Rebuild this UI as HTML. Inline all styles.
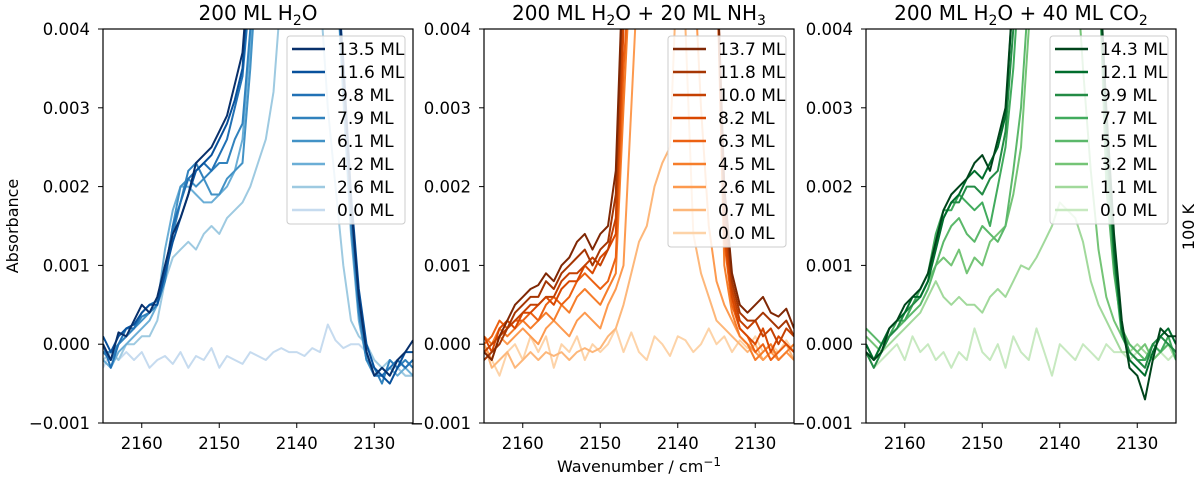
<!DOCTYPE html>
<html><head><meta charset="utf-8"><style>
body{margin:0;background:#fff;}
svg{display:block;font-family:"DejaVu Sans","Liberation Sans",sans-serif;}
</style></head><body>
<svg id="chart" width="1200" height="477" viewBox="0 0 1200 477" xmlns="http://www.w3.org/2000/svg"></svg>
<script>
const wavenumbers=[2165,2164,2163,2162,2161,2160,2159,2158,2157,2156,2155,2154,2153,2152,2151,2150,2149,2148,2147,2146,2145,2144,2143,2142,2141,2140,2139,2138,2137,2136,2135,2134,2133,2132,2131,2130,2129,2128,2127,2126,2125];
const xTicks=[2160,2150,2140,2130];
const yTicks=[-0.001,0,0.001,0.002,0.003,0.004];
const yTickLabels=["\u22120.001","0.000","0.001","0.002","0.003","0.004"];
const panelTitles=["200 ML H<tspan dy='5' font-size='14'>2</tspan><tspan dy='-5'>O</tspan>","200 ML H<tspan dy='5' font-size='14'>2</tspan><tspan dy='-5'>O + 20 ML NH</tspan><tspan dy='5' font-size='14'>3</tspan>","200 ML H<tspan dy='5' font-size='14'>2</tspan><tspan dy='-5'>O + 40 ML CO</tspan><tspan dy='5' font-size='14'>2</tspan>"];
// values in units of 0.001 absorbance (legend order: thickest first)
const blueLabels=["13.5 ML","11.6 ML","9.8 ML","7.9 ML","6.1 ML","4.2 ML","2.6 ML","0.0 ML"];
const blueColors=["#08306b","#08519c","#2171b5","#3182bd","#4292c6","#6baed6","#9ecae1","#c6dbef"];
const blueValues=[
[0,-0.2,0.15,0.1,0.3,0.5,0.4,0.6,1.0,1.4,1.6,1.9,2.3,2.4,2.5,2.7,2.9,3.3,3.7,5,5,5,5,5,5,5,5,5,5,5,5,3.5,1.8,0.6,-0.1,-0.4,-0.3,-0.4,-0.2,-0.1,0.05],
[0.1,-0.1,0.1,0.2,0.25,0.4,0.5,0.5,0.9,1.3,1.6,1.9,2.2,2.3,2.4,2.6,2.8,3.1,3.5,5,5,5,5,5,5,5,5,5,5,5,5,3.6,1.9,0.7,0.0,-0.3,-0.4,-0.5,-0.3,-0.1,-0.1],
[0.0,-0.3,0.0,0.2,0.2,0.4,0.5,0.55,0.9,1.5,1.8,2.1,2.2,2.3,2.2,2.4,2.6,3.0,3.4,4.5,5,5,5,5,5,5,5,5,5,5,5,3.4,1.7,0.5,-0.1,-0.4,-0.4,-0.3,-0.2,-0.3,-0.2],
[-0.1,-0.2,0.0,0.1,0.2,0.35,0.4,0.5,0.8,1.4,1.8,2.2,2.3,2.1,2.2,2.3,2.3,2.6,2.8,4.0,5,5,5,5,5,5,5,5,5,5,5,3.3,1.6,0.4,-0.2,-0.3,-0.5,-0.2,-0.3,-0.2,-0.3],
[-0.1,-0.1,0.0,0.1,0.2,0.3,0.4,0.5,0.9,1.5,2.0,2.1,2.0,2.1,1.9,1.9,2.1,2.2,2.3,3.5,5,5,5,5,5,5,5,5,5,5,5,3.2,1.5,0.4,-0.2,-0.4,-0.3,-0.4,-0.2,-0.3,-0.2],
[-0.2,-0.3,-0.1,0.0,0.1,0.2,0.3,0.5,1.2,1.7,2.0,2.0,1.9,1.8,1.8,1.9,2.0,2.2,2.6,3.8,5,5,5,5,5,5,5,5,5,5,5,3.1,1.4,0.3,-0.2,-0.3,-0.4,-0.3,-0.4,-0.3,-0.4],
[-0.2,-0.1,-0.2,0.0,0.0,0.1,0.1,0.3,0.8,1.1,1.2,1.3,1.2,1.4,1.5,1.4,1.6,1.7,1.8,2.0,2.3,2.6,3.2,4.5,5,5,5,5,4.5,3.0,2.0,1.0,0.3,0.1,0.0,-0.2,-0.3,-0.2,-0.3,-0.4,-0.4],
[-0.3,-0.1,-0.2,-0.1,-0.2,-0.1,-0.3,-0.2,-0.15,-0.25,-0.1,-0.3,-0.15,-0.2,-0.05,-0.3,-0.15,-0.2,-0.25,-0.1,-0.15,-0.2,-0.1,-0.05,-0.1,-0.1,-0.15,-0.05,-0.1,0.25,0.05,-0.05,0.0,0.0,-0.1,-0.3,-0.4,-0.3,-0.3,-0.4,-0.4]];
const orangeLabels=["13.7 ML","11.8 ML","10.0 ML","8.2 ML","6.3 ML","4.5 ML","2.6 ML","0.7 ML","0.0 ML"];
const orangeColors=["#7f2704","#a63603","#c54102","#d94801","#ec6112","#f67d2a","#fd9a4f","#fdb77a","#fdd3a8"];
const orangeValues=[
[-0.1,-0.2,0.1,0.3,0.5,0.6,0.7,0.75,0.9,0.8,1.0,1.1,1.3,1.4,1.2,1.4,1.5,2.2,5,5,5,5,5,5,5,5,5,5,5,5,5,2.0,0.9,0.5,0.4,0.5,0.6,0.4,0.35,0.45,0.2],
[-0.2,-0.1,0.0,0.2,0.4,0.5,0.6,0.6,0.8,0.7,0.9,1.0,1.1,1.2,1.0,1.2,1.3,1.9,5,5,5,5,5,5,5,5,5,5,5,5,5,1.8,0.8,0.4,0.3,0.3,0.4,0.3,0.2,0.3,0.1],
[-0.1,0.0,0.1,0.2,0.3,0.4,0.5,0.5,0.6,0.6,0.8,0.9,0.9,1.0,1.1,1.0,1.2,1.6,4.5,5,5,5,5,5,5,5,5,5,5,5,5,1.6,0.7,0.3,0.2,0.3,0.1,0.2,0.0,0.2,0.1],
[0.1,-0.1,0.2,0.3,0.2,0.4,0.4,0.5,0.6,0.5,0.7,0.8,0.8,1.0,0.9,1.1,1.2,1.4,4,5,5,5,5,5,5,5,5,5,5,5,5,1.4,0.6,0.2,0.1,0.0,0.2,-0.1,0.1,0.0,-0.1],
[0.0,0.1,0.3,0.2,0.3,0.3,0.4,0.3,0.5,0.6,0.5,0.6,0.8,0.9,0.8,0.7,0.8,1.1,3.5,5,5,5,5,5,5,5,5,5,5,5,5,1.3,0.5,0.2,0.1,-0.1,0.0,-0.2,-0.1,0.0,-0.1],
[0.1,0.0,0.2,0.1,0.2,0.3,0.2,0.3,0.4,0.3,0.5,0.4,0.6,0.7,0.6,0.5,0.7,0.9,3,5,5,5,5,5,5,5,5,5,5,5,5,1.0,0.4,0.1,0.0,-0.2,-0.1,0.0,-0.2,-0.1,0.0],
[0.0,-0.2,0.1,0.0,0.1,0.2,0.1,0.0,0.2,0.3,0.2,0.1,0.3,0.4,0.3,0.2,0.5,0.7,1.0,3.0,5,5,5,5,5,5,5,5,3.0,1.5,0.8,0.5,0.3,0.1,0.0,-0.1,-0.2,-0.1,-0.2,-0.1,-0.2],
[0.0,-0.3,-0.2,-0.1,-0.3,-0.2,-0.1,-0.2,-0.1,-0.15,-0.1,-0.2,-0.1,-0.05,-0.1,-0.05,0.1,0.2,0.5,0.9,1.3,1.5,2.0,2.3,2.5,5,4.0,1.4,0.9,0.6,0.3,0.2,0.1,0.0,-0.1,0.0,-0.2,-0.1,-0.1,0.0,-0.2],
[0.0,-0.2,-0.4,-0.1,0.0,-0.2,0.1,-0.1,0.1,-0.3,0.0,-0.1,0.1,-0.2,0.0,-0.1,0.0,0.2,-0.1,0.15,-0.1,-0.2,0.1,0.0,-0.15,0.1,0.05,-0.1,0.0,0.2,0.0,0.1,-0.1,0.05,-0.05,0.1,-0.1,0.0,-0.1,0.05,-0.1]];
const greenLabels=["14.3 ML","12.1 ML","9.9 ML","7.7 ML","5.5 ML","3.2 ML","1.1 ML","0.0 ML"];
const greenColors=["#00441b","#006d2c","#238b45","#41ab5d","#5bb86a","#74c476","#a1d99b","#c7e9c0"];
const greenValues=[
[-0.1,-0.2,-0.1,0.2,0.3,0.5,0.6,0.7,0.9,1.3,1.7,1.9,2.0,2.1,2.3,2.4,2.2,2.6,3.0,4.5,5,5,5,5,5,5,5,5,5,5,5,3.0,1.4,0.3,-0.3,-0.4,-0.7,-0.2,0.2,0.1,0.1],
[0.0,-0.2,0.0,0.2,0.3,0.4,0.6,0.6,0.8,1.2,1.6,1.8,1.9,2.1,2.2,2.1,2.3,2.5,2.9,4.5,5,5,5,5,5,5,5,5,5,5,5,2.8,1.2,0.2,-0.2,-0.3,-0.4,-0.1,0.1,0.2,0.0],
[-0.1,-0.3,-0.1,0.1,0.2,0.4,0.5,0.6,0.8,1.3,1.6,1.8,1.8,2.0,2.0,1.9,2.1,2.2,2.7,4.0,5,5,5,5,5,5,5,5,5,5,5,2.6,1.1,0.2,-0.1,-0.2,-0.3,0.0,0.1,0.0,-0.1],
[0.0,-0.2,0.0,0.1,0.3,0.3,0.5,0.7,0.9,1.4,1.7,1.7,1.9,1.8,1.7,1.8,1.5,2.0,2.5,3.5,5,5,5,5,5,5,5,5,5,5,5,2.3,1.0,0.1,-0.1,-0.2,-0.2,0.0,-0.1,0.1,-0.2],
[0.2,0.1,0.0,0.1,0.2,0.3,0.4,0.5,0.7,1.0,1.3,1.5,1.6,1.4,1.3,1.5,1.4,1.3,1.5,2.2,3.0,4.5,5,5,5,5,5,5,5,5,5,2.0,0.9,0.2,0.0,-0.1,-0.2,0.0,-0.1,0.0,-0.1],
[0.1,0.0,-0.1,0.1,0.2,0.3,0.5,0.6,0.8,1.0,1.1,1.0,1.2,0.9,1.1,1.0,1.3,1.4,1.5,1.9,2.5,4.0,5,5,5,5,5,5,3.5,2.2,1.2,0.6,0.3,0.1,0.0,-0.1,0.0,-0.2,-0.1,0.0,-0.1],
[0.0,-0.2,-0.1,0.0,0.1,0.2,0.3,0.4,0.6,0.8,0.6,0.5,0.6,0.5,0.5,0.4,0.6,0.7,0.6,0.8,1.0,0.95,1.1,1.3,1.5,1.8,1.7,1.6,1.3,0.8,0.5,0.3,0.1,-0.1,-0.1,0.0,-0.1,-0.2,-0.1,0.0,-0.2],
[-0.1,-0.3,-0.2,-0.1,0.0,-0.2,0.1,-0.1,0.0,-0.2,-0.1,-0.3,-0.1,-0.2,0.2,-0.1,-0.2,0.0,-0.3,0.1,-0.1,-0.2,0.2,-0.1,-0.4,0.0,-0.1,-0.2,0.0,-0.1,-0.2,0.0,-0.1,-0.1,-0.2,-0.1,0.0,-0.2,-0.1,-0.2,-0.1]];

const NS="http://www.w3.org/2000/svg";
const svg=document.getElementById('chart');
function mk(tag,attrs,parent){const e=document.createElementNS(NS,tag);for(const k in attrs)e.setAttribute(k,attrs[k]);(parent||svg).appendChild(e);return e;}
const plotTop=29,plotBot=423,W=310;
const yScale=v=>plotBot-(v-(-1))/5*(plotBot-plotTop);
const panels=[
 {left:103,key:'water',labels:blueLabels,colors:blueColors,values:blueValues,legH:188},
 {left:484,key:'ammonia',labels:orangeLabels,colors:orangeColors,values:orangeValues,legH:211},
 {left:866,key:'co2',labels:greenLabels,colors:greenColors,values:greenValues,legH:188}];
panels.forEach((p,pi)=>{
 const xScale=w=>p.left+(2165-w)/40*W;
 const g=mk('g',{});
 
 
 const cp=mk('clipPath',{id:'clip'+pi},g);
 mk('rect',{x:p.left,y:plotTop,width:W,height:plotBot-plotTop},cp);
 const lines=mk('g',{'clip-path':'url(#clip'+pi+')'},g);
 for(let s=p.values.length-1;s>=0;s--){
  const d=p.values[s].map((v,i)=>(i?'L':'M')+xScale(wavenumbers[i]).toFixed(1)+','+yScale(v).toFixed(1)).join(' ');
  const path=mk('path',{d:d,fill:'none',stroke:p.colors[s],'stroke-width':2,'stroke-linejoin':'round'},lines);
  
  
 }
 const frame=mk('rect',{x:p.left,y:plotTop,width:W,height:plotBot-plotTop,fill:'none',stroke:'#000','stroke-width':1.2},g);
 
 
 xTicks.forEach(t=>{const x=xScale(t);mk('line',{x1:x,x2:x,y1:plotBot,y2:plotBot+5,stroke:'#000'},g);
  const tx=mk('text',{x:x,y:plotBot+26,'text-anchor':'middle','font-size':16.5},g);tx.textContent=t;
  
  });
 yTicks.forEach((t,i)=>{const y=yScale(t*1000);mk('line',{x1:p.left-5,x2:p.left,y1:y,y2:y,stroke:'#000'},g);
  const tx=mk('text',{x:p.left-13,y:y+6,'text-anchor':'end','font-size':16.5},g);tx.textContent=yTickLabels[i];
  
  });
 const title=mk('text',{x:p.left+W/2,y:20,'text-anchor':'middle','font-size':20},g);
 title.innerHTML=panelTitles[pi];
 
 
 const lg=mk('g',{},g);
 
 
 const lx=p.left+W-126,ly=36;
 mk('rect',{x:lx,y:ly,width:118,height:p.legH,rx:3,fill:'#fff','fill-opacity':0.85,stroke:'#ccc'},lg);
 p.labels.forEach((lab,i)=>{const y=ly+13+i*23;
  const e=mk('g',{},lg);
  
  
  mk('line',{x1:lx+5,x2:lx+38,y1:y,y2:y,stroke:p.colors[i],'stroke-width':2.5},e);
  const t=mk('text',{x:lx+50,y:y+6,'font-size':17},e);t.textContent=lab;});
});
const yl=mk('text',{x:0,y:0,transform:'translate(18,226) rotate(-90)','text-anchor':'middle','font-size':16});yl.textContent='Absorbance';


const tl=mk('text',{x:0,y:0,transform:'translate(1194,227) rotate(-90)','text-anchor':'middle','font-size':16});tl.textContent='100 K';


const xl=mk('text',{x:639,y:472,'text-anchor':'middle','font-size':16});xl.innerHTML="Wavenumber / cm<tspan dy='-6' font-size='12'>\u22121</tspan>";


</script>
</body></html>
